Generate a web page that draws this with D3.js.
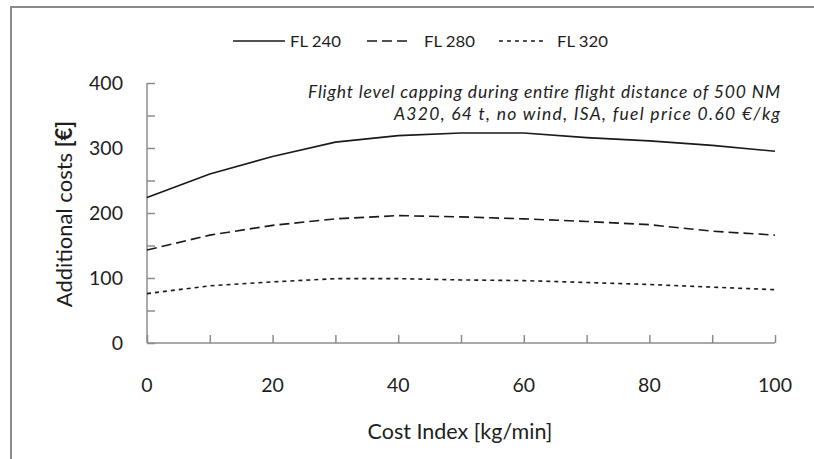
<!DOCTYPE html>
<html><head><meta charset="utf-8">
<script src="https://cdn.jsdelivr.net/npm/d3@7"></script>
<style>
html,body{margin:0;padding:0;background:#fff;}
svg{display:block;font-family:Lato, "Open Sans", sans-serif;}
</style></head>
<body>
<svg id="chart" width="814" height="459"></svg>
<script>
const costIndex = [0, 10, 20, 30, 40, 50, 60, 70, 80, 90, 100];
const fl240 = [224, 260, 287, 309, 319, 323, 323, 316, 311, 304, 295];
const fl280 = [143, 166, 181, 191, 196, 194, 191, 187, 182, 172, 166];
const fl320 = [76, 88, 94, 99, 99, 97, 96, 93, 90, 86, 82];
const seriesNames = ["FL 240", "FL 280", "FL 320"];
const yTicks = [0, 100, 200, 300, 400];
const xTicks = [0, 20, 40, 60, 80, 100];
const noteLines = ["Flight level capping during entire flight distance of 500 NM",
                   "A320, 64 t, no wind, ISA, fuel price 0.60 €/kg"];

(function () {
const svg = d3.select("#chart");
const pL = 147, pR = 775, pT = 83, pB = 343;
const x = d3.scaleLinear().domain([0, 100]).range([pL, pR]);
const y = d3.scaleLinear().domain([0, 400]).range([pB, pT]);
const axisColor = "#8c8c8c";
const textColor = "#1e1e1e";

// outer frame
svg.append("path").attr("d", "M11,459 L11,7 L814,7").attr("fill", "none")
  .attr("stroke", "#8a8a8a").attr("stroke-width", 2);

// y axis with inward ticks
const yAxis = d3.axisRight(y).tickValues(d3.range(0, 401, 50)).tickSize(8).tickFormat("");
const gy = svg.append("g").attr("transform", `translate(${pL},0)`).call(yAxis);
gy.selectAll("path,line").attr("stroke", axisColor).attr("stroke-width", 1.5);
gy.select(".domain").attr("d", `M0,${pB}V${pT}`);

// x axis with inward ticks
const xAxis = d3.axisTop(x).tickValues(d3.range(0, 101, 10)).tickSize(8).tickFormat("");
const gx = svg.append("g").attr("transform", `translate(0,${pB})`).call(xAxis);
gx.selectAll("path,line").attr("stroke", axisColor).attr("stroke-width", 1.5);
gx.select(".domain").attr("d", `M${pL},0H${pR}`);

// tick labels
svg.append("g").selectAll("text").data(yTicks).join("text")
  .attr("x", 123).attr("y", d => y(d)).attr("dy", "0.35em")
  .attr("text-anchor", "end").attr("font-size", 19.5).attr("fill", textColor)
  .text(d => d);
svg.append("g").selectAll("text").data(xTicks).join("text")
  .attr("x", d => x(d)).attr("y", 385).attr("dy", "0.35em")
  .attr("text-anchor", "middle").attr("font-size", 19.5).attr("fill", textColor)
  .text(d => d);

// axis titles
svg.append("text").attr("x", 460).attr("y", 439)
  .attr("text-anchor", "middle").attr("font-size", 21.5).attr("fill", textColor)
  .text("Cost Index [kg/min]");
const yt = svg.append("text").attr("transform", "translate(72,214) rotate(-90)")
  .attr("text-anchor", "middle").attr("font-size", 22).attr("fill", textColor);
yt.append("tspan").text("Additional costs ");
yt.append("tspan").attr("font-weight", "bold").text("[€]");

// note
svg.append("g").selectAll("text").data(noteLines).join("text")
  .attr("x", 780).attr("y", (d, i) => i === 0 ? 97.5 : 120)
  .attr("text-anchor", "end").attr("font-size", 17.5).attr("font-style", "italic").attr("fill", textColor)
  .attr("textLength", (d, i) => [472, 386][i]).attr("lengthAdjust", "spacing")
  .text(d => d);

// series
const series = [
  {name: seriesNames[0], values: fl240, dash: null},
  {name: seriesNames[1], values: fl280, dash: "10,5"},
  {name: seriesNames[2], values: fl320, dash: "4,4"}
];
const line = d3.line().x((d, i) => x(costIndex[i])).y(d => y(d));
svg.append("g").selectAll("path").data(series).join("path")
  .attr("d", d => line(d.values)).attr("fill", "none").attr("stroke", "#1a1a1a")
  .attr("stroke-width", 1.6).attr("stroke-dasharray", d => d.dash);

// legend
const legX = [233, 367, 499];
const leg = svg.append("g").selectAll("g").data(series).join("g")
  .attr("transform", (d, i) => `translate(${legX[i]},41)`);
leg.append("line").attr("x1", 0).attr("x2", (d, i) => [52, 45, 46][i]).attr("y1", 0).attr("y2", 0)
  .attr("stroke", "#1a1a1a").attr("stroke-width", 1.6).attr("stroke-dasharray", d => d.dash);
leg.append("text").attr("x", (d, i) => [57, 57, 58][i]).attr("y", 6)
  .attr("font-size", 15.5).attr("fill", textColor)
  .attr("textLength", 51).attr("lengthAdjust", "spacingAndGlyphs")
  .text(d => d.name);
})();
</script>
</body></html>
